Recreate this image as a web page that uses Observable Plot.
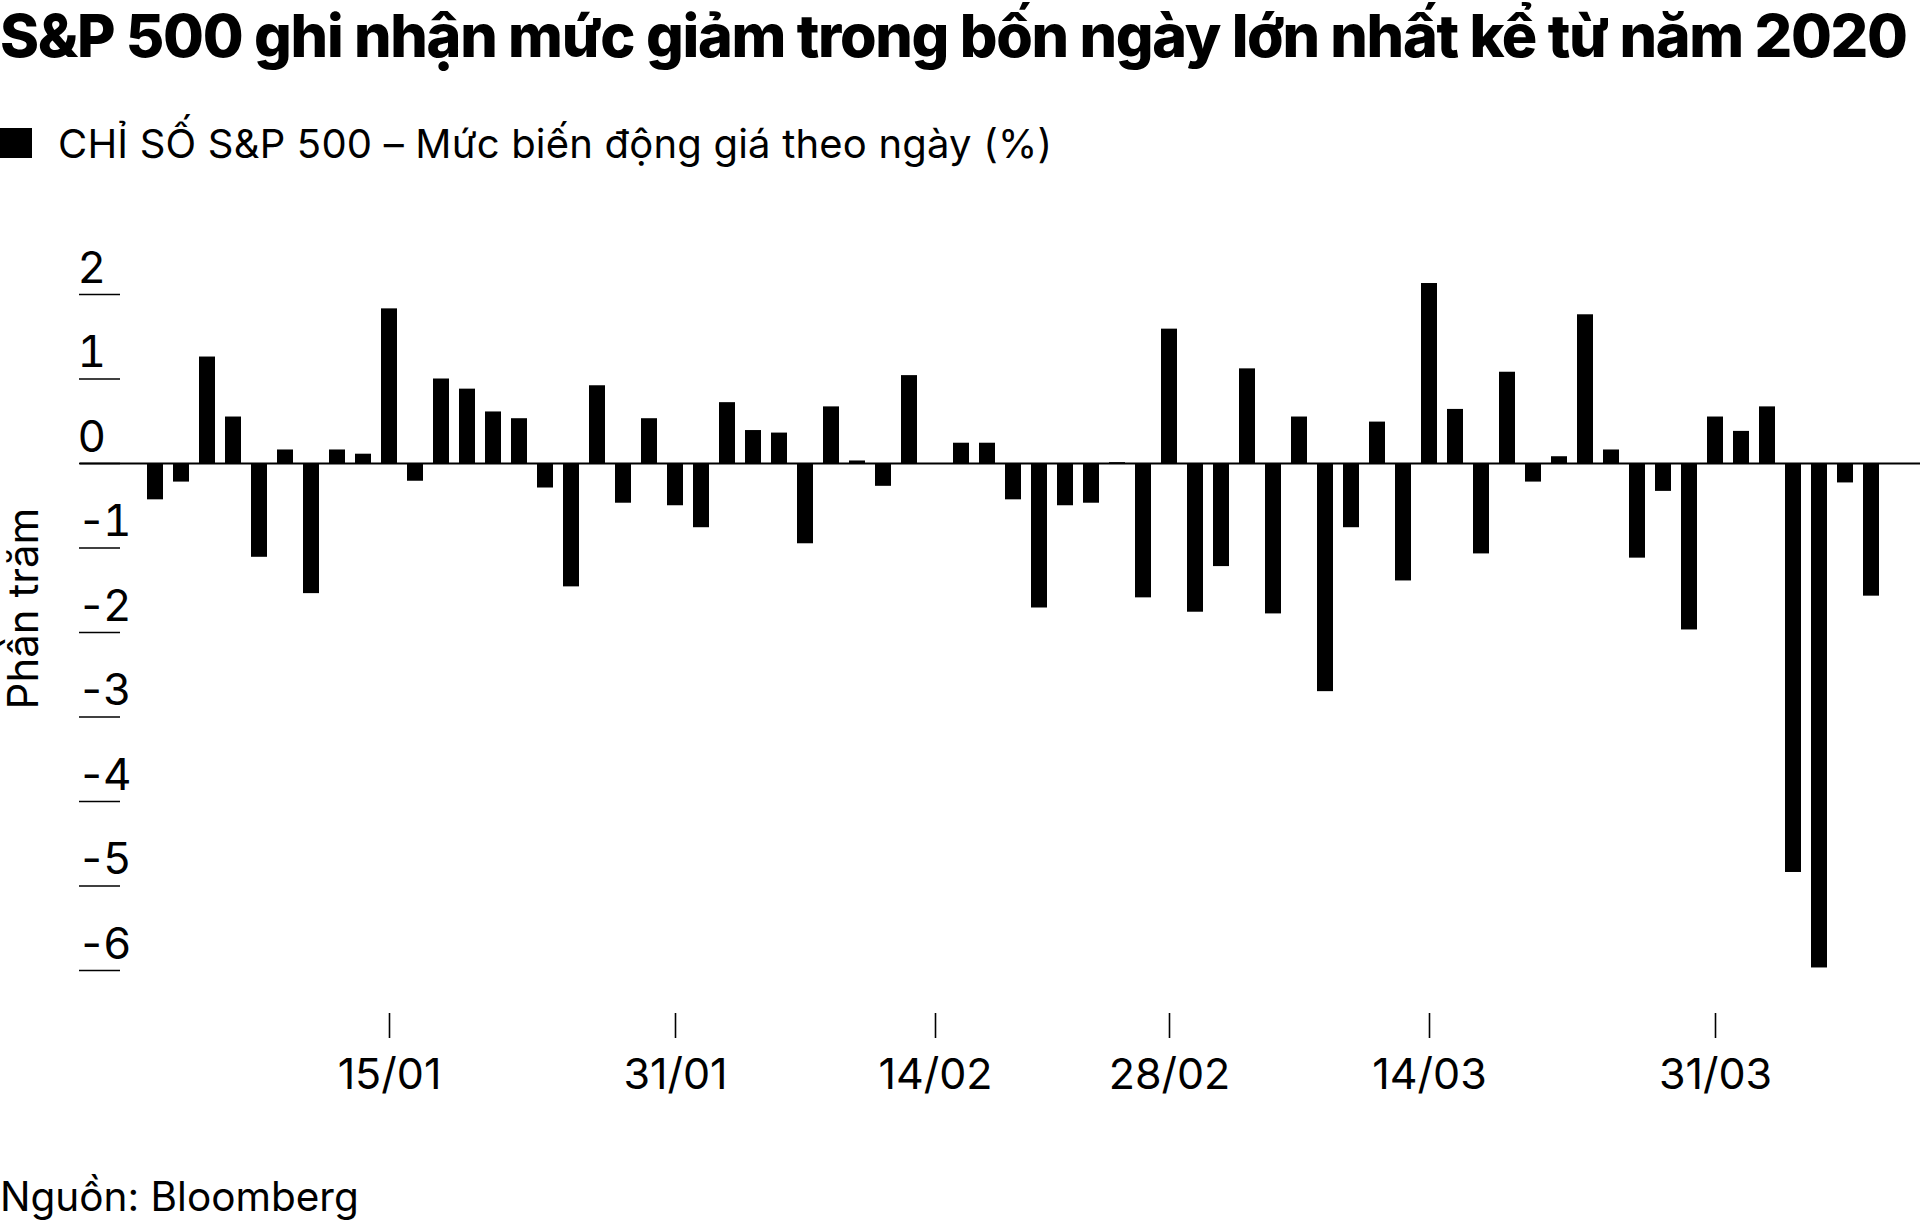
<!DOCTYPE html>
<html>
<head>
<meta charset="utf-8">
<script src="https://cdn.jsdelivr.net/npm/d3@7"></script>
<script src="https://cdn.jsdelivr.net/npm/@observablehq/plot@0.6"></script>
<style>
  html, body { margin: 0; padding: 0; background: #fff; }
  body { width: 1920px; height: 1226px; position: relative; overflow: hidden;
         font-family: Inter, "Noto Sans", sans-serif; color: #000; }
  .t { position: absolute; left: 0; white-space: nowrap; line-height: 1; }
  #title { top: 5px; font-size: 59.2px; font-weight: 800; letter-spacing: -1.3px; line-height: 1.05; }
  #legend { top: 124px; left: 58px; font-size: 40px; font-weight: 400; letter-spacing: 0.2px; }
  #swatch { position: absolute; left: 0; top: 128px; width: 32px; height: 30px; background: #000; }
  #caption { top: 1177px; font-size: 40.5px; font-weight: 400; }
  #chart { position: absolute; left: 0; top: 200px; }
</style>
</head>
<body>
<div id="title" class="t">S&amp;P 500 ghi nhận mức giảm trong bốn ngày lớn nhất kể từ năm 2020</div>
<div id="swatch"></div>
<div id="legend" class="t">CHỈ SỐ S&amp;P 500 – Mức biến động giá theo ngày (%)</div>
<div id="chart"></div>
<div id="caption" class="t">Nguồn: Bloomberg</div>
<script>
// Trading days (DD/MM) — 31/12/2024 to 08/04/2025
const days = ["31/12","02/01","03/01","06/01","07/01","08/01","10/01","13/01","14/01","15/01",
  "16/01","17/01","21/01","22/01","23/01","24/01","27/01","28/01","29/01","30/01",
  "31/01","03/02","04/02","05/02","06/02","07/02","10/02","11/02","12/02","13/02",
  "14/02","18/02","19/02","20/02","21/02","24/02","25/02","26/02","27/02","28/02",
  "03/03","04/03","05/03","06/03","07/03","10/03","11/03","12/03","13/03","14/03",
  "17/03","18/03","19/03","20/03","21/03","24/03","25/03","26/03","27/03","28/03",
  "31/03","01/04","02/04","03/04","04/04","07/04","08/04"];
// Daily % change of the S&P 500
const changes = [-0.43,-0.22,1.26,0.55,-1.11,0.16,-1.54,0.16,0.11,1.83,
  -0.21,1.00,0.88,0.61,0.53,-0.29,-1.46,0.92,-0.47,0.53,
  -0.50,-0.76,0.72,0.39,0.36,-0.95,0.67,0.03,-0.27,1.04,
  -0.01,0.24,0.24,-0.43,-1.71,-0.50,-0.47,0.01,-1.59,1.59,
  -1.76,-1.22,1.12,-1.78,0.55,-2.70,-0.76,0.49,-1.39,2.13,
  0.64,-1.07,1.08,-0.22,0.08,1.76,0.16,-1.12,-0.33,-1.97,
  0.55,0.38,0.67,-4.84,-5.97,-0.23,-1.57];
const xTickLabels = ["15/01","31/01","14/02","28/02","14/03","31/03"];
const yTickValues = [2,1,0,-1,-2,-3,-4,-5,-6];
const yLabel = "Phần trăm";

const data = days.map((d, i) => ({day: d, value: changes[i]}));

const mL = 131.2, mR = 24.5;
const chart = Plot.plot({
  width: 1920,
  height: 920,
  marginLeft: mL,
  marginRight: mR,
  marginTop: 94,
  marginBottom: 150,
  style: {fontFamily: "Inter, 'Noto Sans', sans-serif", color: "#000", background: "transparent", overflow: "visible"},
  x: {type: "band", domain: days, padding: 0.39},
  y: {domain: [-6, 2]},
  marks: [
    Plot.barY(data, {x: "day", y: "value", fill: "#000"}),
    Plot.ruleY([0], {stroke: "#000", strokeWidth: 2, insetLeft: -(mL - 79.6), insetRight: -mR}),
    Plot.axisY(yTickValues, {tickSize: 41, dx: -11.2, tickFormat: () => "", strokeWidth: 1.6, label: null}),
    Plot.axisY(yTickValues, {tickSize: 0, tickPadding: 0, textAnchor: "start", dx: -(mL - 77), dy: -12,
      lineAnchor: "bottom", tickFormat: d => String(d), fontSize: 44, label: null}),
    Plot.axisX(xTickLabels, {tickSize: 25, dy: 43, tickPadding: 19.5, fontSize: 43, strokeWidth: 1.6, label: null}),
    Plot.text([yLabel], {frameAnchor: "left", rotate: -90, dx: 37 - mL, dy: -24, fontSize: 42,
      lineAnchor: "bottom", textAnchor: "middle", fill: "#000"})
  ]
});
// tighten the hyphen in negative y tick labels
d3.select(chart).selectAll("text")
  .filter(function() { return /^-\d$/.test(this.textContent); })
  .style("letter-spacing", "-3px");
document.getElementById("chart").appendChild(chart);
</script>
</body>
</html>
